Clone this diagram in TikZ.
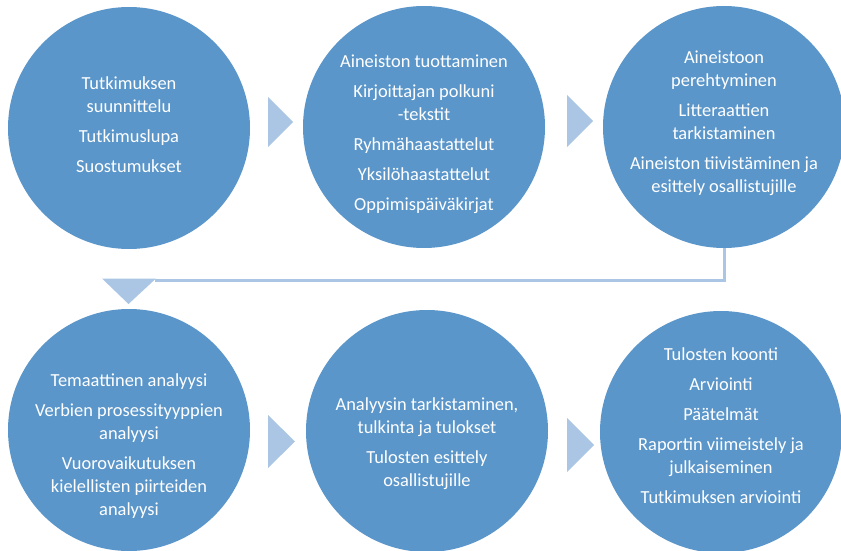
\documentclass[tikz,border=0pt]{standalone}
\usepackage{fontspec}
\setmainfont{Carlito}
\definecolor{circblue}{HTML}{5B96CA}
\definecolor{lightblue}{HTML}{AAC6E4}
\begin{document}
\begin{tikzpicture}[x=1pt,y=-1pt,
  bigcirc/.style={circle,fill=circblue,draw=none,minimum size=242pt,inner sep=0pt},
  ctext/.style={text=white,align=center,font=\fontsize{18.4}{23}\selectfont,inner sep=0pt},
  chev/.style={fill=lightblue,draw=none},
  conn/.style={draw=lightblue,line width=3pt}]
\useasboundingbox (0,0) rectangle (841,551);
\clip (0,0) rectangle (841,551);
% circles
\node[bigcirc] (c1) at (129,128) {};
\node[bigcirc] (c2) at (424,127) {};
\node[bigcirc] (c3) at (724,127) {};
\node[bigcirc] (c4) at (129,430) {};
\node[bigcirc] (c5) at (427,431) {};
\node[bigcirc] (c6) at (721,432) {};
% texts
\node[ctext] (t1) at (129,125) {Tutkimuksen\\suunnittelu\\[7pt]Tutkimuslupa\\[7pt]Suostumukset};
\node[ctext] (t2) at (424,134) {Aineiston tuottaminen\\[7pt]Kirjoittajan polkuni\\-tekstit\\[7pt]Ryhmähaastattelut\\[7pt]Yksilöhaastattelut\\[7pt]Oppimispäiväkirjat};
\node[ctext] (t3) at (724,123) {Aineistoon\\perehtyminen\\[7pt]Litteraattien\\tarkistaminen\\[7pt]Aineiston tiivistäminen ja\\esittely osallistujille};
\node[ctext] (t4) at (129,446) {Temaattinen analyysi\\[7pt]Verbien prosessityyppien\\analyysi\\[7pt]Vuorovaikutuksen\\kielellisten piirteiden\\analyysi};
\node[ctext] (t5) at (427,444) {Analyysin tarkistaminen,\\tulkinta ja tulokset\\[7pt]Tulosten esittely\\osallistujille};
\node[ctext] (t6) at (721,426) {Tulosten koonti\\[7pt]Arviointi\\[7pt]Päätelmät\\[7pt]Raportin viimeistely ja\\julkaiseminen\\[7pt]Tutkimuksen arviointi};
% chevrons
\fill[chev] (268,97) -- (293,122) -- (268,147) -- cycle;
\fill[chev] (567,95) -- (593,121) -- (567,147) -- cycle;
\fill[chev] (268,415) -- (295,441.5) -- (268,468) -- cycle;
\fill[chev] (567,418) -- (594,445) -- (567,472) -- cycle;
% connector from circle 3 to row 2
\coordinate (k1) at (155,280);
\draw[conn] (c3.south) -- (724,280) -- (k1);
\fill[chev] (102,278.5) -- (156,278.5) -- (128.5,304) -- cycle;
\end{tikzpicture}
\end{document}
